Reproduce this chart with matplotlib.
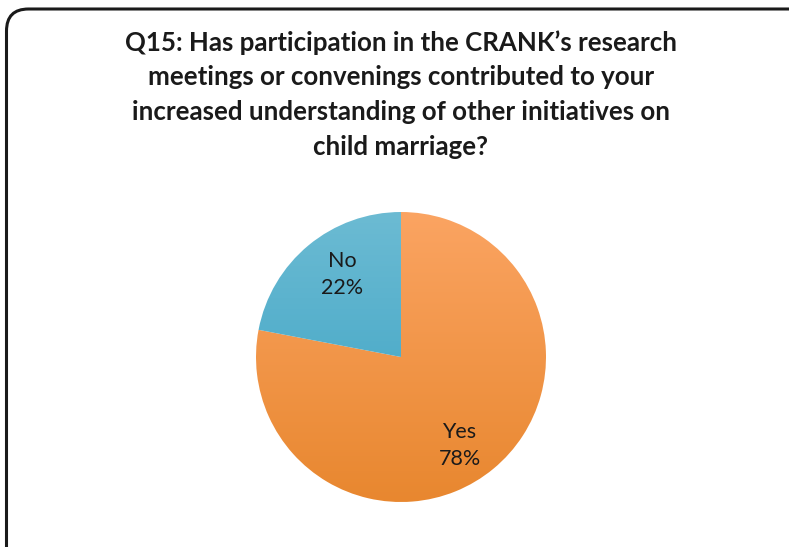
import numpy as np
import matplotlib.pyplot as plt
from matplotlib.patches import FancyBboxPatch
from matplotlib.colors import LinearSegmentedColormap

title = ("Q15: Has participation in the CRANK\u2019s research\n"
         "meetings or convenings contributed to your\n"
         "increased understanding of other initiatives on\n"
         "child marriage?")
labels = ["Yes", "No"]
values = [78, 22]
# top / bottom shades for each slice
shades = [("#fba462", "#e8872f"), ("#6cbbd3", "#36a0c2")]

W, H = 789, 547
fig = plt.figure(figsize=(W / 100, H / 100), dpi=100)
ax = fig.add_axes([0, 0, 1, 1])

# chart frame, running off the right and bottom edges
frame = FancyBboxPatch((6.5, -60), 900, H - 9 + 60,
                       boxstyle="round,pad=0,rounding_size=22",
                       fc="white", ec="#1a1a1a", lw=2.2, zorder=0)
ax.add_patch(frame)

cx, cy, r = 401, H - 357, 145
wedges, _ = ax.pie(values, startangle=90, counterclock=False,
                   center=(cx, cy), radius=r, frame=True)
ax.set_xlim(0, W)
ax.set_ylim(0, H)
ax.set_aspect("equal")
ax.axis("off")

ax.text(401, H - 30, title, ha="center", va="top", fontsize=18.6,
        fontweight="bold", family="Lato", color="#1a1a1a",
        linespacing=1.53)

grad = np.linspace(1, 0, 256).reshape(-1, 1)
for w, (top, bot) in zip(wedges, shades):
    w.set_facecolor("none")
    w.set_edgecolor("none")
    cmap = LinearSegmentedColormap.from_list("g", [bot, top])
    im = ax.imshow(grad, cmap=cmap, extent=(cx - r, cx + r, cy - r, cy + r),
                   origin="upper", aspect="auto", zorder=1, vmin=0, vmax=1)
    im.set_clip_path(w)

# data labels, placed inside each slice
total = sum(values)
start = 90.0
for lab, v in zip(labels, values):
    sweep = 360.0 * v / total
    mid = np.radians(start - sweep / 2)
    start -= sweep
    d = 0.72 * r
    ax.text(cx + 0.88 * d * np.cos(mid), cy + 1.06 * d * np.sin(mid) - 3,
            f"{lab}\n{round(100 * v / total)}%", ha="center", va="center",
            fontsize=15.5, family="Lato", color="#1a1a1a", linespacing=1.45,
            zorder=3)

fig.savefig("out.png", dpi=100)
